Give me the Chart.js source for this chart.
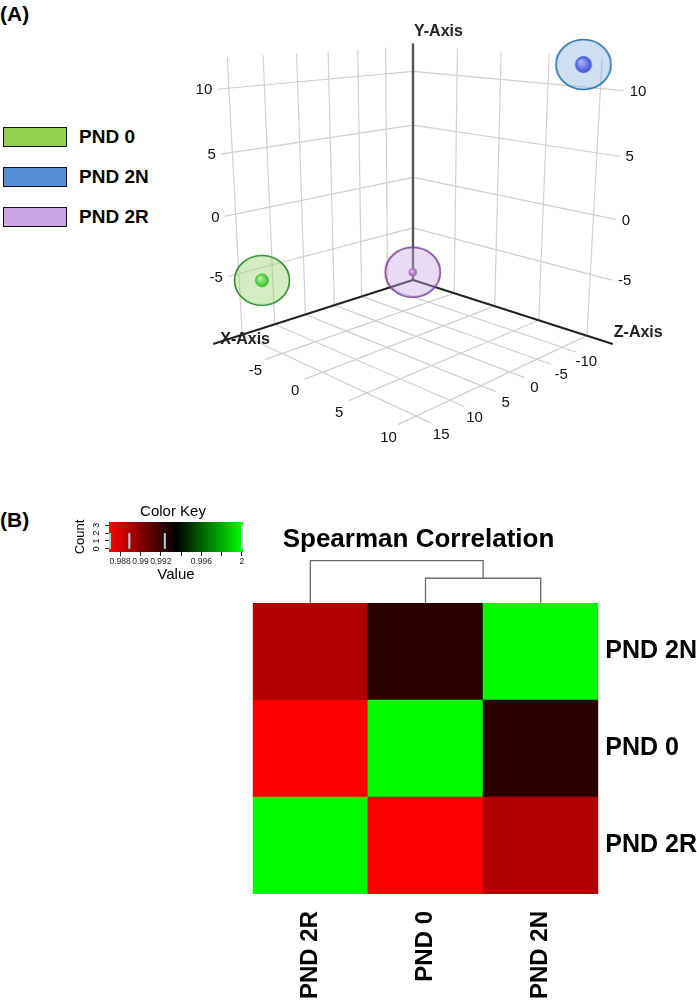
<!DOCTYPE html>
<html>
<head>
<meta charset="utf-8">
<title>PCA and Spearman correlation</title>
<script src="https://cdn.jsdelivr.net/npm/chart.js@4.4.3/dist/chart.umd.min.js"></script>
<style>
  html, body { margin: 0; padding: 0; background: #fff; }
  body { position: relative; width: 697px; height: 1002px; overflow: hidden;
         font-family: "Liberation Sans", Arial, sans-serif; color: #000; }
  canvas { position: absolute; }
  .panel { position: absolute; left: 0; font-weight: bold; font-size: 21px; line-height: 1; }
  .leg { position: absolute; left: 3px; display: flex; align-items: center; height: 21px; }
  .leg i { display: block; width: 62px; height: 18px; border: 1.5px solid #111; }
  .leg span { margin-left: 12px; font-weight: bold; font-size: 19px; }
</style>
</head>
<body>
<div class="panel" style="top:3px">(A)</div>
<div class="panel" style="top:509px">(B)</div>
<div id="legend"></div>
<canvas id="pca" width="697" height="470" style="left:0;top:0"></canvas>
<canvas id="key" width="190" height="82" style="left:60px;top:503px"></canvas>
<canvas id="dendro" width="457" height="50" style="left:240px;top:556px"></canvas>
<canvas id="heat" width="457" height="482" style="left:240px;top:520px"></canvas>
<script>
Chart.defaults.font.family = "'Liberation Sans', Arial, sans-serif";
Chart.defaults.color = "#000";

// ---- data ----
const samples = ["PND 0", "PND 2N", "PND 2R"];
const pcaX = [-7.8, 9.6, -1.8];
const pcaY = [-5.0, 11.9, -5.5];
const pcaZ = [14.5, -12.4, -2.1];
const tickX3d = [-5, 0, 5, 10];
const tickY3d = [-5, 0, 5, 10];
const tickZ3d = [-10, -5, 0, 5, 10, 15];

const corrPND0 = [1.0, 0.9924, 0.9870];
const corrPND2N = [0.9924, 1.0, 0.9889];
const corrPND2R = [0.9870, 0.9889, 1.0];
const heatColumns = ["PND 2R", "PND 0", "PND 2N"];
const heatRows = ["PND 2N", "PND 0", "PND 2R"];
const dendroHeights = [0.0076, 0.0130];

const keyMin = 0.9869, keyMax = 1.0001;
const keyTicks = [0.988, 0.990, 0.992, 0.994, 0.996, 0.998, 1.000];
const keyTickLabels = ["0.988", "0.99", "0.992", "", "0.996", "", "2"];
const histValues = [0.9870, 0.9889, 0.9924, 1.0];
const histCounts = [2, 2, 2, 3];
const countTicks = [0, 1, 2, 3];

// ---- styles ----
const legendColors = ["#92d050", "#558ed5", "#c9a3e3"];
const haloStyles = [
  { fill: "rgba(150,210,110,0.42)", stroke: "#2f8f2f", light: "#aef59a", dark: "#3fbf2a", r: 6.5 },
  { fill: "rgba(120,165,220,0.35)", stroke: "#1f6fb0", light: "#a9b6ff", dark: "#3f52d8", r: 8 },
  { fill: "rgba(200,165,225,0.40)", stroke: "#7a3c98", light: "#e3c4ef", dark: "#9c62b8", r: 3.8 }
];
const gridColor = "#d0d0d0";

// legend (panel A)
document.getElementById("legend").innerHTML = samples.map((s, i) =>
  `<div class="leg" style="top:${126 + i * 40}px"><i style="background:${legendColors[i]}"></i><span>${s}</span></div>`
).join("");

// ---- panel A: perspective view of the 3D box ----
const camera = { pitch: 15, dist: 6.382, focal: 880.9, cx: 413, cy: 224 };
// data value -> normalised box coordinate, plus box extent in normalised units
const axis3d = {
  x: { off: -0.039, k: 0.09108, lo: -1, hi: 1 },
  y: { off: 0.0457, k: 0.09204, lo: -0.904, hi: 1.18 },
  z: { off: -0.0719, k: 0.06105, lo: -1, hi: 1 }
};
const nx = v => axis3d.x.off + axis3d.x.k * v;
const ny = v => axis3d.y.off + axis3d.y.k * v;
const nz = v => axis3d.z.off + axis3d.z.k * v;

function project(a, b, c) {
  const t = camera.pitch * Math.PI / 180;
  const sp = Math.sin(t), cp = Math.cos(t), r = Math.SQRT1_2;
  const vx = a - camera.dist * cp * r, vy = b - camera.dist * sp, vz = c - camera.dist * cp * r;
  const xc = r * (vx - vz);
  const yc = -sp * r * (vx + vz) + cp * vy;
  const zc = -cp * r * (vx + vz) - sp * vy;
  return { x: camera.cx + camera.focal * xc / zc, y: camera.cy - camera.focal * yc / zc };
}

const X0 = axis3d.x.lo, X1 = axis3d.x.hi, Y0 = axis3d.y.lo, Y1 = axis3d.y.hi, Z0 = axis3d.z.lo, Z1 = axis3d.z.hi;
const leftWallEnd = 0.94, rightWallEnd = 1.06, axisEnd = 1.1;

function seg(p, q, color, width, order) {
  return { data: [project(...p), project(...q)], showLine: true, borderColor: color,
           borderWidth: width, pointRadius: 0, order: order };
}

const gridSets = [];
tickX3d.forEach(v => {
  gridSets.push(seg([nx(v), Y0, Z0], [nx(v), Y0, Z1], gridColor, 1.2, 3));   // floor
  gridSets.push(seg([nx(v), Y0, Z0], [nx(v), Y1, Z0], gridColor, 1.2, 3));   // right wall
});
tickZ3d.forEach(v => {
  gridSets.push(seg([X0, Y0, nz(v)], [X1, Y0, nz(v)], gridColor, 1.2, 3));   // floor
  gridSets.push(seg([X0, Y0, nz(v)], [X0, Y1, nz(v)], gridColor, 1.2, 3));   // left wall
});
tickY3d.forEach(v => {
  gridSets.push(seg([X0, ny(v), Z0], [X0, ny(v), leftWallEnd], gridColor, 1.2, 3));
  gridSets.push(seg([X0, ny(v), Z0], [rightWallEnd, ny(v), Z0], gridColor, 1.2, 3));
});
const axisSets = [
  seg([X0, Y0, Z0], [X0, Y0, axisEnd], "#222", 2, 2),
  seg([X0, Y0, Z0], [axisEnd, Y0, Z0], "#222", 2, 2),
  seg([X0, Y0, Z0], [X0, Y1 + 0.02, Z0], "#555", 2.4, 2)
];

function haloImage(st) {
  const c = document.createElement("canvas");
  c.width = 60; c.height = 55;
  const g = c.getContext("2d");
  g.beginPath(); g.ellipse(30, 27.5, 27.5, 25, 0, 0, Math.PI * 2);
  g.fillStyle = st.fill; g.fill();
  g.lineWidth = 1.6; g.strokeStyle = st.stroke; g.stroke();
  const rg = g.createRadialGradient(30 - st.r * 0.35, 27.5 - st.r * 0.35, st.r * 0.1, 30, 27.5, st.r);
  rg.addColorStop(0, st.light); rg.addColorStop(1, st.dark);
  g.beginPath(); g.arc(30, 27.5, st.r, 0, Math.PI * 2);
  g.fillStyle = rg; g.fill();
  g.lineWidth = 0.8; g.strokeStyle = st.dark; g.stroke();
  return c;
}

const pointSets = samples.map((s, i) => ({
  label: s,
  data: [project(nx(pcaX[i]), ny(pcaY[i]), nz(pcaZ[i]))],
  pointStyle: haloImage(haloStyles[i]),
  pointRadius: 28,
  order: 0
}));

const pcaText = {
  id: "pcaText",
  afterDatasetsDraw(chart) {
    const { ctx, scales: { x, y } } = chart;
    const at = p => [x.getPixelForValue(p.x), y.getPixelForValue(p.y)];
    ctx.save();
    ctx.fillStyle = "#111";
    ctx.textBaseline = "middle";
    ctx.font = "15px 'Liberation Sans', Arial, sans-serif";
    ctx.textAlign = "right";
    tickY3d.forEach(v => { const [u, w] = at(project(X0, ny(v), leftWallEnd)); ctx.fillText(String(v), u - 5, w + 1); });
    ctx.textAlign = "left";
    tickY3d.forEach(v => { const [u, w] = at(project(rightWallEnd, ny(v), Z0)); ctx.fillText(String(v), u + 6, w + 1); });
    ctx.textAlign = "center";
    tickX3d.forEach(v => { const [u, w] = at(project(nx(v), Y0, 1.12)); ctx.fillText(String(v), u + 5, w + 6); });
    tickZ3d.forEach(v => { const [u, w] = at(project(1.1, Y0, nz(v))); ctx.fillText(String(v), u - 2, w + 6); });

    ctx.font = "bold 16px 'Liberation Sans', Arial, sans-serif";
    ctx.fillStyle = "#222";
    ctx.textAlign = "left";
    let [u, w] = at(project(X0, Y1 + 0.02, Z0));
    ctx.fillText("Y-Axis", u + 1, w - 12);
    [u, w] = at(project(X0, Y0, axisEnd));
    ctx.fillText("X-Axis", u + 7, w - 4);
    [u, w] = at(project(axisEnd, Y0, Z0));
    ctx.fillText("Z-Axis", u + 1, w - 11);
    ctx.restore();
  }
};

new Chart(document.getElementById("pca"), {
  type: "scatter",
  data: { datasets: [...pointSets, ...axisSets, ...gridSets] },
  options: {
    responsive: false, animation: false, events: [],
    layout: { padding: 0, autoPadding: false },
    plugins: { legend: { display: false }, tooltip: { enabled: false } },
    scales: {
      x: { type: "linear", min: 0, max: 697, display: false },
      y: { type: "linear", min: 0, max: 470, reverse: true, display: false }
    }
  },
  plugins: [pcaText]
});

// ---- panel B: colour key ----
function keyColor(v) {
  const t = Math.min(1, Math.max(0, (v - keyMin) / (keyMax - keyMin)));
  const r = t < 0.5 ? Math.round(255 * (1 - 2 * t)) : 0;
  const g = t > 0.5 ? Math.round(255 * (2 * t - 1)) : 0;
  return `rgb(${r},${g},0)`;
}

const keyPaint = {
  id: "keyPaint",
  beforeDatasetsDraw(chart) {
    const { ctx, chartArea: a, scales: { x } } = chart;
    const x0 = x.getPixelForValue(keyMin), x1 = x.getPixelForValue(keyMax);
    const gr = ctx.createLinearGradient(x0, 0, x1, 0);
    gr.addColorStop(0, keyColor(keyMin));
    gr.addColorStop(0.5, "#000");
    gr.addColorStop(1, keyColor(keyMax));
    ctx.save();
    ctx.fillStyle = gr;
    ctx.fillRect(x0, a.top, x1 - x0, a.bottom - a.top);
    ctx.restore();
  },
  afterDraw(chart) {
    const { ctx, chartArea: a, scales: { y } } = chart;
    ctx.save();
    ctx.fillStyle = "#000";
    ctx.textAlign = "center";
    ctx.textBaseline = "middle";
    ctx.font = "15px 'Liberation Sans', Arial, sans-serif";
    ctx.fillText("Color Key", (a.left + a.right) / 2 - 3, 9);
    ctx.font = "9px 'Liberation Sans', Arial, sans-serif";
    countTicks.forEach(v => {
      ctx.save();
      ctx.translate(a.left - 12, y.getPixelForValue(v));
      ctx.rotate(-Math.PI / 2);
      ctx.fillText(String(v), 0, 0);
      ctx.restore();
    });
    ctx.restore();
  }
};

new Chart(document.getElementById("key"), {
  type: "scatter",
  data: {
    datasets: histValues.map((v, i) => ({
      data: [{ x: v, y: 0 }, { x: v, y: histCounts[i] }],
      showLine: true, borderColor: "#a9d4d8", borderWidth: 2, pointRadius: 0, clip: false
    }))
  },
  options: {
    responsive: false, animation: false, events: [],
    layout: { padding: { top: 19, right: 7, left: 0, bottom: 0 }, autoPadding: false },
    plugins: { legend: { display: false }, tooltip: { enabled: false } },
    scales: {
      x: {
        type: "linear", min: keyMin, max: keyMax,
        afterBuildTicks: s => { s.ticks = keyTicks.map(v => ({ value: v })); },
        ticks: { callback: (v, i) => keyTickLabels[i], font: { size: 8.5 }, color: "#222",
                 padding: 1, maxRotation: 0, autoSkip: false },
        grid: { drawOnChartArea: false, drawTicks: true, tickLength: 4, color: "#222" },
        border: { display: false },
        title: { display: true, text: "Value", font: { size: 15 }, padding: { top: 0, bottom: 1 } },
        afterFit: s => { s.height = 33; }
      },
      y: {
        type: "linear", min: -0.4, max: 3.4,
        afterBuildTicks: s => { s.ticks = countTicks.map(v => ({ value: v })); },
        ticks: { display: false },
        grid: { drawOnChartArea: false, drawTicks: true, tickLength: 4, color: "#222" },
        border: { display: false },
        title: { display: true, text: "Count", font: { size: 13 }, padding: { top: 13, bottom: 0 } },
        afterFit: s => { s.width = 49; }
      }
    }
  },
  plugins: [keyPaint]
});

// ---- panel B: dendrogram over the columns ----
const leaf = name => heatColumns.indexOf(name);
const joinX = (leaf("PND 0") + leaf("PND 2N")) / 2;
const dendroPaths = [
  [{ x: leaf("PND 0"), y: 0 }, { x: leaf("PND 0"), y: dendroHeights[0] },
   { x: leaf("PND 2N"), y: dendroHeights[0] }, { x: leaf("PND 2N"), y: 0 }],
  [{ x: leaf("PND 2R"), y: 0 }, { x: leaf("PND 2R"), y: dendroHeights[1] },
   { x: joinX, y: dendroHeights[1] }, { x: joinX, y: dendroHeights[0] }]
];

new Chart(document.getElementById("dendro"), {
  type: "scatter",
  data: {
    datasets: dendroPaths.map(p => ({ data: p, showLine: true, borderColor: "#6a6a6a",
                                      borderWidth: 1.3, pointRadius: 0, clip: false }))
  },
  options: {
    responsive: false, animation: false, events: [],
    layout: { padding: { top: 4.7, bottom: 3, left: 12.7, right: 98.7 }, autoPadding: false },
    plugins: { legend: { display: false }, tooltip: { enabled: false } },
    scales: {
      x: { type: "linear", min: -0.5, max: heatColumns.length - 0.5, display: false },
      y: { type: "linear", min: 0, max: dendroHeights[1], display: false }
    }
  }
});

// ---- panel B: heatmap ----
const corrBySample = { "PND 0": corrPND0, "PND 2N": corrPND2N, "PND 2R": corrPND2R };
const corrOf = (row, col) => corrBySample[row][samples.indexOf(col)];

const heatTitle = {
  id: "heatTitle",
  afterDraw(chart) {
    const { ctx, chartArea: a } = chart;
    ctx.save();
    ctx.fillStyle = "#000";
    ctx.textAlign = "center";
    ctx.textBaseline = "middle";
    ctx.font = "bold 26px 'Liberation Sans', Arial, sans-serif";
    ctx.fillText("Spearman Correlation", (a.left + a.right) / 2 - 7, 20);
    ctx.restore();
  }
};

new Chart(document.getElementById("heat"), {
  type: "bar",
  data: {
    labels: heatColumns,
    datasets: heatRows.slice().reverse().map(row => ({
      label: row,
      data: heatColumns.map(() => 1),
      backgroundColor: heatColumns.map(col => keyColor(corrOf(row, col))),
      borderWidth: 0,
      barPercentage: 1,
      categoryPercentage: 1
    }))
  },
  options: {
    responsive: false, animation: false, events: [],
    layout: { padding: { top: 83, left: 12.7, right: 0, bottom: 0 }, autoPadding: false },
    plugins: { legend: { display: false }, tooltip: { enabled: false } },
    scales: {
      x: {
        type: "category", stacked: true, offset: true,
        grid: { display: false, drawTicks: false }, border: { display: false },
        ticks: { font: { size: 24, weight: "bold" }, color: "#000", minRotation: 90, maxRotation: 90,
                 padding: 17, autoSkip: false },
        afterFit: s => { s.height = 108; }
      },
      y: { type: "linear", stacked: true, min: 0, max: heatRows.length, display: false },
      rows: {
        type: "category", axis: "y", position: "right", labels: heatRows, offset: true,
        grid: { display: false, drawTicks: false }, border: { display: false },
        ticks: { font: { size: 25, weight: "bold" }, color: "#000", padding: 7, autoSkip: false },
        afterFit: s => { s.width = 98.7; }
      }
    }
  },
  plugins: [heatTitle]
});
</script>
</body>
</html>
